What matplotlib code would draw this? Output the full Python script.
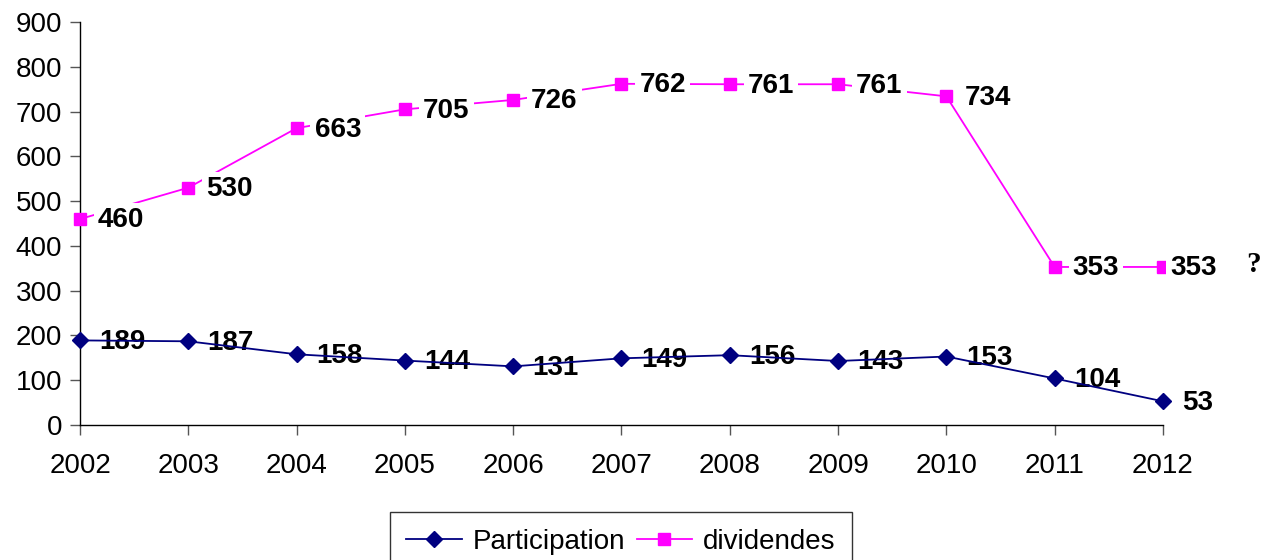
import matplotlib
matplotlib.use("Agg")
import matplotlib.pyplot as plt

plt.rcParams["font.family"] = ["Liberation Sans", "DejaVu Sans"]

years = [2002, 2003, 2004, 2005, 2006, 2007, 2008, 2009, 2010, 2011, 2012]
participation = [189, 187, 158, 144, 131, 149, 156, 143, 153, 104, 53]
dividendes = [460, 530, 663, 705, 726, 762, 761, 761, 734, 353, 353]

fig = plt.figure(figsize=(12.66, 5.6), dpi=100)
ax = fig.add_axes([0.0632, 0.241, 0.8554, 0.7197])

ax.plot(years, participation, color="#000080", lw=1.3, marker="D", ms=8.5,
        label="Participation", zorder=3, clip_on=False)
ax.plot(years, dividendes, color="#FF00FF", lw=1.3, marker="s", ms=8.5,
        label="dividendes", zorder=3, clip_on=False)

# data labels (dividend labels have a white box that hides the line)
for x, v in zip(years, participation):
    ax.annotate(str(v), (x, v), xytext=(14, -1), textcoords="offset points",
                ha="left", va="center", fontsize=20, fontweight="bold", zorder=2)
for i, (x, v) in enumerate(zip(years, dividendes)):
    dx = 5 if i == len(years) - 1 else 13
    ax.annotate(str(v), (x, v), xytext=(dx, -1), textcoords="offset points",
                ha="left", va="center", fontsize=20, fontweight="bold", zorder=4,
                bbox=dict(boxstyle="square,pad=0.15", fc="white", ec="none"))

ax.annotate("?", (years[-1], dividendes[-1]), xytext=(60, 2),
            textcoords="offset points", ha="left", va="center", fontsize=21,
            fontweight="bold", family="Liberation Serif")

ax.set_xlim(2002, 2012)
ax.set_ylim(0, 900)
ax.set_xticks(years)
ax.set_yticks(range(0, 901, 100))
ax.tick_params(labelsize=20, direction="out", length=7, color="#555555", width=1)
ax.tick_params(axis="x", pad=13)
ax.tick_params(axis="y", pad=6)
ax.spines["top"].set_visible(False)
ax.spines["right"].set_visible(False)
ax.spines["left"].set_linewidth(1)
ax.spines["bottom"].set_linewidth(1)

leg = fig.legend(loc="upper center", bbox_to_anchor=(0.4905, 0.0857), ncol=2,
                 fontsize=20, frameon=True, fancybox=False, edgecolor="black",
                 handlelength=2, columnspacing=0.4, handletextpad=0.4,
                 borderpad=0.6, borderaxespad=0)
leg.get_frame().set_linewidth(1)

fig.savefig("out.png", dpi=100)
